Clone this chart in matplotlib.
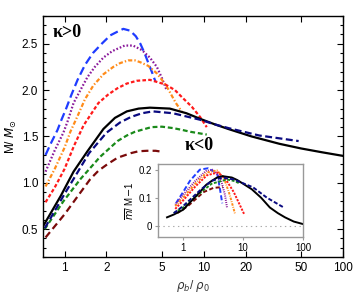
import numpy as np
import matplotlib
matplotlib.use("Agg")
from matplotlib import pyplot as plt

plt.rcParams['font.family'] = ['Liberation Sans', 'DejaVu Sans']
plt.rcParams['lines.scale_dashes'] = False
plt.rcParams['mathtext.fontset'] = 'dejavusans'

# ---------------- main panel data: M/Msun vs rho_b/rho_0 ----------------
blue_x = [0.73, 0.8, 0.89, 0.95, 1.02, 1.12, 1.24, 1.4, 1.6, 1.85, 2.13, 2.4, 2.64, 2.96, 3.25, 3.5, 3.75, 4.0, 4.25, 4.5]
blue_y = [1.30, 1.43, 1.57, 1.68, 1.79, 1.95, 2.11, 2.27, 2.40, 2.50, 2.59, 2.63, 2.66, 2.64, 2.58, 2.50, 2.40, 2.29, 2.19, 2.09]

purple_x = [0.73, 0.85, 0.98, 1.05, 1.16, 1.3, 1.46, 1.65, 1.9, 2.2, 2.7, 3.1, 3.6, 4.1, 4.6, 5.0, 5.4]
purple_y = [1.12, 1.35, 1.54, 1.66, 1.86, 2.00, 2.14, 2.25, 2.35, 2.42, 2.48, 2.48, 2.43, 2.35, 2.25, 2.13, 2.00]

orange_x = [0.73, 0.85, 1.0, 1.1, 1.24, 1.4, 1.61, 1.9, 2.24, 2.5, 2.86, 3.2, 3.5, 4.0, 4.6, 5.0, 5.5, 6.3, 7.0]
orange_y = [0.96, 1.15, 1.38, 1.55, 1.72, 1.90, 2.05, 2.17, 2.25, 2.29, 2.32, 2.32, 2.30, 2.26, 2.18, 2.11, 2.02, 1.86, 1.76]

red_x = [0.73, 0.85, 1.0, 1.17, 1.37, 1.75, 2.05, 2.4, 2.8, 3.3, 4.1, 5.3, 6.2, 7.0, 8.2, 9.4, 10.5]
red_y = [0.79, 0.95, 1.15, 1.40, 1.62, 1.86, 1.95, 2.02, 2.07, 2.10, 2.11, 2.06, 2.00, 1.92, 1.82, 1.71, 1.60]

black_x = [0.7, 0.94, 1.16, 1.46, 1.9, 2.3, 2.8, 3.4, 4.1, 5.7, 7.5, 9.4, 12, 15, 22, 35, 50, 70, 100]
black_y = [0.53, 0.86, 1.12, 1.34, 1.58, 1.70, 1.77, 1.80, 1.81, 1.80, 1.75, 1.69, 1.63, 1.58, 1.50, 1.42, 1.37, 1.33, 1.29]

navy_x = [0.72, 1.0, 1.5, 2.0, 2.5, 3.0, 3.6, 4.3, 6.0, 9.4, 12, 15, 25, 48]
navy_y = [0.51, 0.88, 1.32, 1.54, 1.65, 1.71, 1.75, 1.77, 1.75, 1.68, 1.63, 1.59, 1.51, 1.45]

green_x = [0.72, 0.98, 1.3, 1.8, 2.4, 2.8, 3.2, 4.2, 5.0, 6.0, 7.0, 8.0, 10.5]
green_y = [0.50, 0.80, 1.04, 1.28, 1.45, 1.51, 1.55, 1.60, 1.605, 1.59, 1.57, 1.55, 1.52]

maroon_x = [0.73, 1.0, 1.25, 1.53, 1.75, 2.03, 2.4, 3.0, 3.4, 3.9, 4.5, 5.0]
maroon_y = [0.41, 0.66, 0.86, 1.04, 1.13, 1.20, 1.27, 1.32, 1.34, 1.345, 1.345, 1.335]

# ---------------- inset data: mbar/M - 1 ----------------
in_blue_x = [0.76, 1.0, 1.3, 1.9, 2.6, 3.7, 4.1, 4.5]
in_blue_y = [0.08, 0.12, 0.16, 0.20, 0.205, 0.187, 0.134, 0.08]

in_purple_x = [0.74, 1.0, 1.6, 2.4, 3.2, 4.2, 5.0, 5.4]
in_purple_y = [0.075, 0.11, 0.16, 0.195, 0.20, 0.17, 0.11, 0.065]

in_orange_x = [0.74, 1.0, 1.6, 2.5, 3.7, 4.8, 6.0, 7.4]
in_orange_y = [0.07, 0.10, 0.15, 0.19, 0.197, 0.17, 0.11, 0.04]

in_red_x = [0.74, 1.0, 1.6, 2.5, 3.8, 5.0, 7.0, 10.4]
in_red_y = [0.06, 0.09, 0.14, 0.18, 0.19, 0.17, 0.12, 0.042]

in_black_x = [0.54, 0.7, 1.0, 1.4, 1.9, 2.4, 3.0, 3.7, 4.5, 6.5, 8, 10, 14, 20, 28, 38, 50, 70, 100]
in_black_y = [0.03, 0.04, 0.057, 0.09, 0.12, 0.145, 0.16, 0.172, 0.177, 0.172, 0.163, 0.15, 0.13, 0.10, 0.065, 0.045, 0.03, 0.015, 0.006]

in_navy_x = [0.7, 1.0, 2.0, 3.0, 4.5, 7.0, 14.7, 25, 46]
in_navy_y = [0.045, 0.07, 0.13, 0.16, 0.172, 0.165, 0.137, 0.10, 0.067]

in_green_x = [0.7, 1.0, 2.0, 3.0, 5.4, 7.0, 9.0]
in_green_y = [0.045, 0.065, 0.12, 0.15, 0.165, 0.16, 0.15]

in_maroon_x = [0.8, 1.2, 2.2, 3.2, 4.6]
in_maroon_y = [0.045, 0.07, 0.12, 0.135, 0.138]

xticks_main = [1, 2, 5, 10, 20, 50, 100]
yticks_main = [0.5, 1.0, 1.5, 2.0, 2.5]

# colour, dash pattern (points) for each curve
styles = {
    'blue':   ('#1f3cff', (0, (6, 3))),
    'purple': ('#8a1a9b', (0, (1.2, 1.4))),
    'orange': ('#ff8c1a', (0, (3, 1.5, 1, 1.5))),
    'red':    ('#ff1a1a', (0, (2.6, 1.6))),
    'black':  ('#000000', '-'),
    'navy':   ('#0a0a80', (0, (5, 2.5))),
    'green':  ('#1a8a1a', (0, (3.5, 2))),
    'maroon': ('#7a0a0a', (0, (5, 3))),
}

main_series = [('blue', blue_x, blue_y), ('purple', purple_x, purple_y),
               ('orange', orange_x, orange_y), ('red', red_x, red_y),
               ('maroon', maroon_x, maroon_y), ('green', green_x, green_y),
               ('black', black_x, black_y), ('navy', navy_x, navy_y)]

inset_series = [('blue', in_blue_x, in_blue_y), ('purple', in_purple_x, in_purple_y),
                ('orange', in_orange_x, in_orange_y), ('red', in_red_x, in_red_y),
                ('maroon', in_maroon_x, in_maroon_y), ('green', in_green_x, in_green_y),
                ('black', in_black_x, in_black_y), ('navy', in_navy_x, in_navy_y)]

fig = plt.figure(figsize=(3.54, 2.94), dpi=100)
ax = fig.add_axes([0.1215, 0.126, 0.8475, 0.820])

for name, xs, ys in main_series:
    col, ls = styles[name]
    ax.plot(xs, ys, color=col, linestyle=ls, lw=1.6, solid_joinstyle='round')

ax.set_xscale('log')
ax.set_xlim(0.7, 100)
ax.set_ylim(0.2, 2.8)
ax.set_xticks(xticks_main)
ax.set_xticklabels([str(t) for t in xticks_main])
ax.xaxis.set_minor_locator(matplotlib.ticker.NullLocator())
ax.set_yticks(yticks_main)
ax.set_yticklabels(['%.1f' % t for t in yticks_main])
ax.yaxis.set_minor_locator(matplotlib.ticker.MultipleLocator(0.1))
ax.tick_params(which='both', direction='in', top=True, right=True, labelsize=8.5, width=0.8)
ax.tick_params(which='major', length=4)
ax.tick_params(which='minor', length=2)
for sp in ax.spines.values():
    sp.set_linewidth(1.0)

ax.set_ylabel(r'M/ $M_{\odot}$', fontsize=8.5, labelpad=2)
ax.set_xlabel(r'$\rho_b$/ $\rho_0$', fontsize=8.5, color='#333333', labelpad=3)

ax.text(0.82, 2.62, 'κ>0', fontsize=13, fontweight='bold', ha='left', va='center',
        family=['Liberation Serif', 'DejaVu Serif'])
ax.text(7.3, 1.40, 'κ<0', fontsize=13, fontweight='bold', ha='left', va='center',
        family=['Liberation Serif', 'DejaVu Serif'])

# inset
axi = fig.add_axes([0.446, 0.194, 0.410, 0.248])
for name, xs, ys in inset_series:
    col, ls = styles[name]
    if ls != '-':
        ls = (0, tuple(v * 0.6 for v in ls[1]))
    axi.plot(xs, ys, color=col, linestyle=ls, lw=1.4)
axi.axhline(0, color='#aaaaaa', lw=0.8, linestyle=(0, (1, 2.5)))
axi.set_xscale('log')
axi.set_xlim(0.38, 100)
axi.set_ylim(-0.04, 0.22)
axi.set_xticks([1, 10, 100])
axi.set_xticklabels(['1', '10', '100'])
axi.xaxis.set_minor_locator(matplotlib.ticker.NullLocator())
axi.set_yticks([0, 0.1, 0.2])
axi.set_yticklabels(['0', '0.1', '0.2'])
axi.tick_params(which='both', direction='out', length=2, labelsize=7, color='#999999', pad=2)
for sp in axi.spines.values():
    sp.set_color('#999999')
    sp.set_linewidth(1.0)
axi.set_ylabel(r'$\overline{m}$/ M$-$1', fontsize=7, labelpad=2)

fig.savefig('out.png', dpi=100)
